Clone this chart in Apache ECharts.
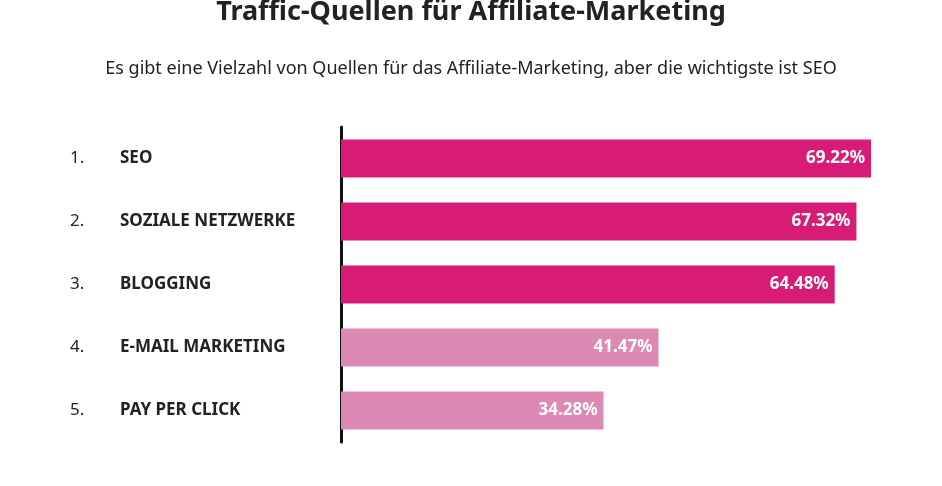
<!DOCTYPE html><html><head><meta charset="utf-8"><script src="https://cdn.jsdelivr.net/npm/echarts@6/dist/echarts.min.js"></script>
<style>html,body{margin:0;background:#fff}#c{width:942px;height:486px}</style></head><body><div id="c"></div><script>
const ranks=['1.','2.','3.','4.','5.'];
const categories=['SEO','SOZIALE NETZWERKE','BLOGGING','E-MAIL MARKETING','PAY PER CLICK'];
const values=[69.22,67.32,64.48,41.47,34.28];
const colors=['#d81b77','#d81b77','#d81b77','#dc89b5','#dc89b5'];
const F='"Noto Sans", sans-serif';
const c=echarts.init(document.getElementById('c'));
c.setOption({
 title:[{text:'Traffic-Quellen für Affiliate-Marketing',left:'center',top:-6,textStyle:{fontFamily:F,fontSize:27,fontWeight:'bold',color:'#222'}},
 {text:'Es gibt eine Vielzahl von Quellen für das Affiliate-Marketing, aber die wichtigste ist SEO',left:'center',top:55,textStyle:{fontFamily:F,fontSize:18,fontWeight:'normal',color:'#222'}}],
 grid:{left:341,top:127,width:530,height:315},
 xAxis:{type:'value',min:0,max:69.22,show:false},
 yAxis:{type:'category',inverse:true,data:categories,axisTick:{show:false},
  axisLine:{lineStyle:{color:'#111',width:3}},
  axisLabel:{margin:271,align:'left',formatter:(v,i)=>'{n|'+ranks[i]+'}{c|'+v+'}',
   rich:{n:{width:50,fontFamily:F,fontSize:17,color:'#222'},c:{fontFamily:F,fontSize:17,fontWeight:'bold',color:'#222'}}}},
 series:[{type:'bar',barWidth:38,data:values.map((v,i)=>({value:v,itemStyle:{color:colors[i]}})),
  label:{show:true,position:'insideRight',distance:6,color:'#fff',fontFamily:F,fontSize:17,fontWeight:'bold',formatter:p=>p.value.toFixed(2)+'%'}}]
});
</script></body></html>
